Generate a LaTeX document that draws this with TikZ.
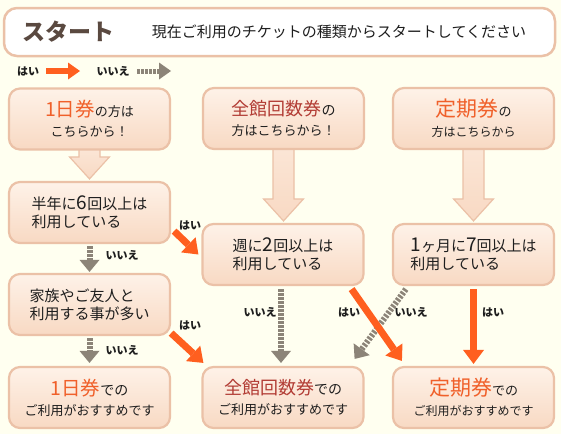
\documentclass[tikz,border=0pt]{standalone}
\usepackage{fontspec}
\newfontfamily\jp{Noto Sans CJK JP}
\usetikzlibrary{arrows.meta,calc}
\pgfdeclarelayer{bgl}
\pgfdeclarelayer{arl}
\pgfsetlayers{bgl,arl,main}
\definecolor{bg}{HTML}{FFFFF0}
\definecolor{bd}{HTML}{EBC1A7}
\definecolor{ftop}{HTML}{FEF2E8}
\definecolor{fbot}{HTML}{F8D9C3}
\definecolor{org}{HTML}{FF5F1F}
\definecolor{gry}{HTML}{8C8478}
\definecolor{tor}{HTML}{F0602A}
\definecolor{tred}{HTML}{B23C34}
\definecolor{ttl}{HTML}{5A4940}
\definecolor{txt}{HTML}{1E1E1E}
\newcommand\fs[1]{\fontsize{#1}{#1}\selectfont}
\newcommand\bigarr[2]{%
  \path[bigarrow] let \p1=(#1.south), \p2=(#2.north) in
   (\x1-10.5pt,\y1+1pt) -- (\x1-10.5pt,\y2+24pt) -- (\x1-20pt,\y2+24pt) --
   (\x1,\y2+2pt) -- (\x1+20pt,\y2+24pt) -- (\x1+10.5pt,\y2+24pt) -- (\x1+10.5pt,\y1+1pt);}
\begin{document}
\begin{tikzpicture}[x=1pt,y=-1pt,
  box/.style={draw=bd, line width=2.2pt, rounded corners=11pt, top color=ftop, bottom color=fbot,
    minimum width=161pt, minimum height=61pt, inner sep=0pt, align=center, text=txt,
    font=\jp\fontsize{13}{20}\selectfont},
  qbox/.style={box, align=left, font=\jp\fontsize{15}{18}\selectfont},
  titlebox/.style={draw=bd, line width=2.5pt, rounded corners=13pt, fill=white,
    minimum width=551pt, minimum height=48pt, inner sep=0pt},
  yesarrow/.style={draw=org, line width=7pt, -{Triangle[width=21pt,length=14pt,line width=0pt]}},
  noarrow/.style={draw=gry, line width=6pt, dash pattern=on 2.5pt off 1.5pt,
    -{Triangle[width=20pt,length=12pt,line width=0pt]}},
  legyes/.style={draw=org, line width=6pt, -{Triangle[width=17pt,length=12pt,line width=0pt]}},
  legno/.style={draw=gry, line width=5pt, dash pattern=on 2.5pt off 1.5pt,
    -{Triangle[width=17pt,length=12pt,line width=0pt]}},
  lbl/.style={font=\jp\bfseries\fontsize{11}{11}\selectfont, inner sep=0pt, text=txt},
  bigarrow/.style={draw=bd, line width=1.2pt, top color=ftop!50!fbot, bottom color=fbot, line join=miter},
]
\begin{pgfonlayer}{bgl}
\fill[bg] (0,0) rectangle (561,434);
\end{pgfonlayer}
\useasboundingbox (0,0) rectangle (561,434);

% title
\node[titlebox] (title) at (279.5,32) {};
\node[font=\jp\bfseries\fs{23}, text=ttl, inner sep=0pt] (start) at (68,32) {スタート};
\node[font=\jp\fs{15}, text=txt, inner sep=0pt] (sub) at (339,32) {現在ご利用のチケットの種類からスタートしてください};

% legend
\node[lbl] (lyes) at (28,71) {はい};
\coordinate (la1) at (46,71);
\coordinate (la2) at (80,71);
\draw[legyes] (la1) -- (la2);
\node[lbl] (lno) at (113,71) {いいえ};
\coordinate (lb1) at (137,71);
\coordinate (lb2) at (171,71);
\draw[legno] (lb1) -- (lb2);

% start boxes
\node[box] (s1) at (89.5,119) {{\fs{19.5}\color{tor}1日券}{\fs{13}の方は}\\こちらから！};
\node[box] (s2) at (283.5,118.5) {{\fs{18}\color{tred}全館回数券}{\fs{14}の}\\方はこちらから！};
\node[box] (s3) at (473.5,118.5) {{\fs{21}\color{tor}定期券}{\fs{13}の}\\{\fs{12}方はこちらから}};

% question boxes
\node[qbox] (q1) at (89.5,212.5) {半年に{\fs{19}6}回以上は\\利用している};
\node[qbox] (q2) at (283,254.5) {週に{\fs{19}2}回以上は\\利用している};
\node[qbox] (q3) at (473.5,254.5) {{\fs{19}1}ヶ月に{\fs{19}7}回以上は\\利用している};
\node[qbox] (q4) at (89.5,304.5) {家族やご友人と\\利用する事が多い};

% result boxes
\node[box] (r1) at (89.5,397.5) {{\fs{19.5}\color{tor}1日券}{\fs{14}での}\\ご利用がおすすめです};
\node[box] (r2) at (283,397.5) {{\fs{18}\color{tred}全館回数券}{\fs{14}での}\\ご利用がおすすめです};
\node[box] (r3) at (473.5,397.5) {{\fs{21}\color{tor}定期券}{\fs{13}での}\\{\fs{12}ご利用がおすすめです}};

% big arrows
\begin{pgfonlayer}{arl}
\bigarr{s1}{q1}
\bigarr{s2}{q2}
\bigarr{s3}{q3}
\end{pgfonlayer}

% connectors
\draw[yesarrow] ([xshift=3pt,yshift=13pt]q1.south east) -- ([xshift=-3pt]q2.west);
\node[lbl] (y1) at (190,225) {はい};
\draw[noarrow] ([yshift=-2pt]q1.south) -- ([yshift=1pt]q4.north);
\node[lbl] (n1) at (122,255) {いいえ};
\draw[noarrow] ([yshift=-2pt]q4.south) -- ([yshift=3pt]r1.north);
\node[lbl] (n2) at (122,350) {いいえ};
\draw[yesarrow] ([yshift=3pt]q4.south east) -- ([xshift=2pt,yshift=3pt]r2.north west);
\node[lbl] (y2) at (190,325) {はい};
\draw[noarrow] ([xshift=-2pt,yshift=-3pt]q2.south) -- ([xshift=-2pt,yshift=3pt]r2.north);
\node[lbl] (n3) at (260,312) {いいえ};
\draw[noarrow] ([xshift=14pt,yshift=-3pt]q3.south west) -- ([xshift=-10pt,yshift=7pt]r2.north east);
\node[lbl] (n4) at (411,312) {いいえ};
\draw[yesarrow] ([xshift=-13pt,yshift=-3pt]q2.south east) -- ([xshift=10pt,yshift=5pt]r3.north west);
\node[lbl] (y3) at (349,312) {はい};
\draw[yesarrow] ([yshift=-3pt]q3.south) -- ([yshift=2pt]r3.north);
\node[lbl] (y4) at (493,312) {はい};
\end{tikzpicture}
\end{document}
